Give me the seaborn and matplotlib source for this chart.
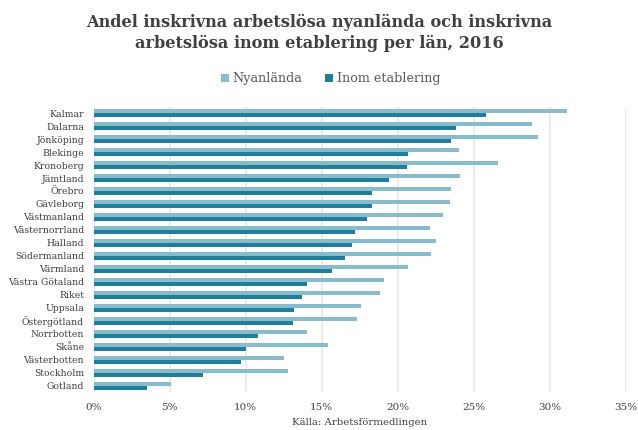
import matplotlib
matplotlib.use("Agg")
import matplotlib.pyplot as plt
import pandas as pd
import seaborn as sns
from matplotlib.ticker import FuncFormatter

counties = ["Kalmar", "Dalarna", "Jönköping", "Blekinge", "Kronoberg", "Jämtland",
            "Örebro", "Gävleborg", "Västmanland", "Västernorrland", "Halland",
            "Södermanland", "Värmland", "Västra Götaland", "Riket", "Uppsala",
            "Östergötland", "Norrbotten", "Skåne", "Västerbotten", "Stockholm", "Gotland"]
nyanlanda = [31.1, 28.8, 29.2, 24.0, 26.6, 24.1, 23.5, 23.4, 23.0, 22.1, 22.5,
             22.2, 20.7, 19.1, 18.8, 17.6, 17.3, 14.0, 15.4, 12.5, 12.8, 5.1]
etablering = [25.8, 23.8, 23.5, 20.7, 20.6, 19.4, 18.3, 18.3, 18.0, 17.2, 17.0,
              16.5, 15.7, 14.0, 13.7, 13.2, 13.1, 10.8, 10.0, 9.7, 7.2, 3.5]
series = ["Nyanlända", "Inom etablering"]
colors = ["#86bccc", "#1e7e9c"]

df = pd.DataFrame({
    "län": counties * 2,
    "andel": nyanlanda + etablering,
    "grupp": [series[0]] * len(counties) + [series[1]] * len(counties),
})

sns.set_style("white")
plt.rcParams["font.family"] = ["DejaVu Serif"]

fig = plt.figure(figsize=(6.38, 4.30), dpi=100)
ax = fig.add_axes([0.147, 0.088, 0.834, 0.664])

sns.barplot(data=df, y="län", x="andel", hue="grupp", order=counties,
            hue_order=series, palette=colors, orient="h", width=0.62,
            ax=ax, saturation=1, linewidth=0, legend=True)

ax.set_xlim(0, 35)
ax.set_xticks(range(0, 36, 5))
ax.xaxis.set_major_formatter(FuncFormatter(lambda v, p: f"{int(v)}%"))
ax.grid(axis="x", color="#e6e6e6", linewidth=1.2)
ax.set_axisbelow(True)
for s in ax.spines.values():
    s.set_visible(False)
ax.tick_params(axis="both", length=0, colors="#404040")
ax.tick_params(axis="y", pad=7, labelsize=6.7)
ax.tick_params(axis="x", pad=8, labelsize=7.5)
ax.set_ylabel("")
ax.set_xlabel("Källa: Arbetsförmedlingen", fontsize=7.3, color="#404040", labelpad=4)

leg = ax.legend(loc="upper center", bbox_to_anchor=(0.445, 1.16), ncol=2,
                frameon=False, fontsize=9.2, handlelength=0.6, handleheight=0.6,
                handletextpad=0.3, columnspacing=1.8, labelcolor="#595959")

fig.suptitle("Andel inskrivna arbetslösa nyanlända och inskrivna\narbetslösa inom etablering per län, 2016",
             x=0.5, y=0.968, fontsize=11.6, fontweight="bold", color="#404040",
             linespacing=1.3)

fig.savefig("out.png", dpi=100)
